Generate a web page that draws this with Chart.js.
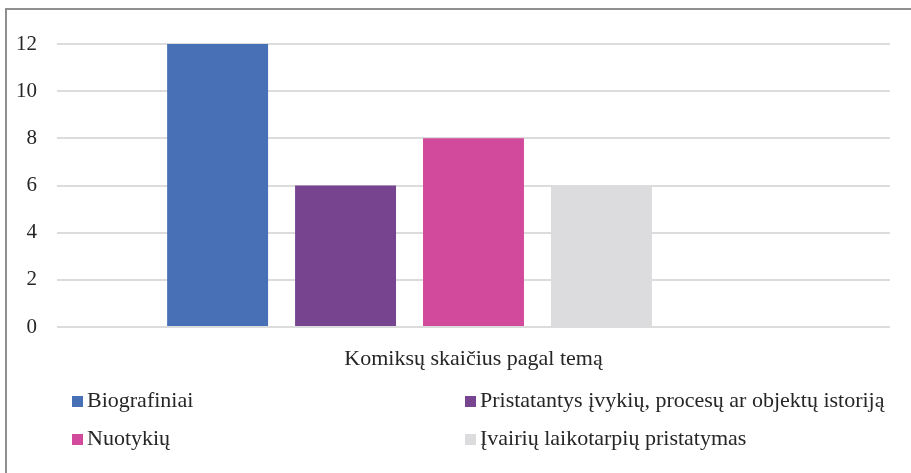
<!DOCTYPE html>
<html><head><meta charset="utf-8">
<script src="https://cdn.jsdelivr.net/npm/chart.js@4/dist/chart.umd.min.js"></script>
<style>
html,body{margin:0;padding:0;background:#fff;}
#wrap{position:relative;width:911px;height:473px;overflow:hidden;}
#frame{position:absolute;left:5px;top:8px;width:1000px;height:1000px;border-left:2px solid #8f8f8f;border-top:2px solid #8f8f8f;box-sizing:border-box;}
canvas{position:absolute;left:0;top:0;}
.leg{position:absolute;font-family:"Liberation Serif","Times New Roman",serif;font-size:22px;color:#262626;white-space:nowrap;line-height:24px;}
.leg i{display:inline-block;width:11px;height:11px;margin-right:4px;vertical-align:0px;}
</style></head><body>
<div id="wrap">
<div id="frame"></div>
<canvas id="c" width="911" height="473"></canvas>
<div id="legend"></div>
</div>
<script>
const categories = ["Komiksų skaičius pagal temą"];
const seriesNames = ["Biografiniai", "Pristatantys įvykių, procesų ar objektų istoriją", "Nuotykių", "Įvairių laikotarpių pristatymas", ""];
const seriesValues = [[12], [6], [8], [6], [null]];
const seriesColors = ["#4770B7", "#77448F", "#D24A9B", "#DCDCDE", "#ffffff"];
const yTicks = [0, 2, 4, 6, 8, 10, 12];

const legendPos = [[72, 388], [465, 388], [72, 426], [465, 426]];
const legendEl = document.getElementById('legend');
seriesNames.slice(0, 4).forEach((n, i) => {
  const d = document.createElement('div');
  d.className = 'leg';
  d.style.left = legendPos[i][0] + 'px';
  d.style.top = legendPos[i][1] + 'px';
  d.innerHTML = '<i style="background:' + seriesColors[i] + '"></i>' + n;
  legendEl.appendChild(d);
});

const font = {family: '"Liberation Serif","Times New Roman",serif', size: 22};
const yFont = {family: '"Liberation Serif","Times New Roman",serif', size: 21};
new Chart(document.getElementById('c'), {
  type: 'bar',
  data: {
    labels: categories,
    datasets: seriesNames.map((n, i) => ({
      label: n, data: seriesValues[i], backgroundColor: seriesColors[i],
      categoryPercentage: 0.768, barPercentage: 0.789
    }))
  },
  options: {
    responsive: false, animation: false,
    layout: {padding: {left: 0, top: 44, right: 21, bottom: 0}},
    plugins: {legend: {display: false}, tooltip: {enabled: false}},
    scales: {
      x: {
        grid: {display: false}, border: {display: false},
        ticks: {font: font, color: '#262626', padding: 11},
        afterFit: s => { s.height = 146; }
      },
      y: {
        min: 0, max: 12,
        afterBuildTicks: s => { s.ticks = yTicks.map(v => ({value: v})); },
        grid: {color: '#dcdcdc', lineWidth: 2, drawTicks: false},
        border: {display: false},
        ticks: {font: yFont, color: '#262626', padding: 20},
        afterFit: s => { s.width = 57; }
      }
    }
  }
});
</script>
</body></html>
